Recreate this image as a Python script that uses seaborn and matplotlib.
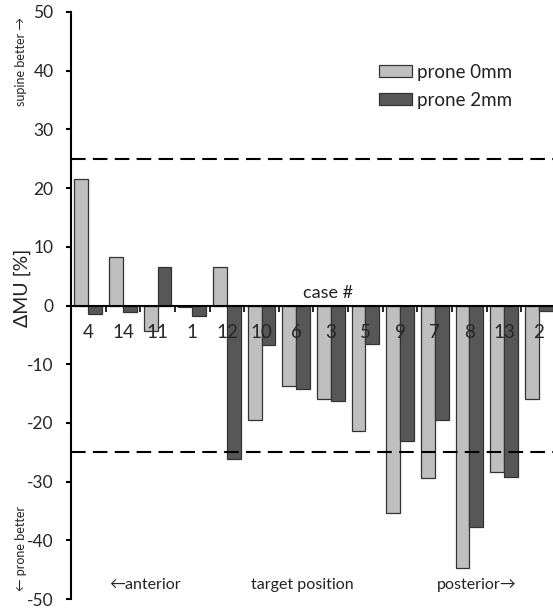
import matplotlib
matplotlib.use("Agg")
import matplotlib.pyplot as plt
from matplotlib.patches import Patch
import pandas as pd
import seaborn as sns

# Cases ordered by target position (anterior -> posterior)
cases = ["4", "14", "11", "1", "12", "10", "6", "3", "5", "9", "7", "8", "13", "2"]
prone_0mm = [21.5, 8.2, -4.3, -0.2, 6.6, -19.5, -13.7, -15.9, -21.3, -35.4, -29.4, -44.7, -28.3, -15.9]
prone_2mm = [-1.4, -1.1, 6.6, -1.8, -26.1, -6.8, -14.3, -16.2, -6.5, -23.1, -19.5, -37.8, -29.2, -1.0]
series = ["prone 0mm", "prone 2mm"]
colors = ["#bfbfbf", "#575757"]
yticks = [-50, -40, -30, -20, -10, 0, 10, 20, 30, 40, 50]
threshold = 25

df = pd.DataFrame({
    "case": cases * 2,
    "dmu": prone_0mm + prone_2mm,
    "series": [series[0]] * len(cases) + [series[1]] * len(cases),
})

sns.set_style("white")
plt.rcParams["font.family"] = ["Lato", "DejaVu Sans"]
plt.rcParams["text.color"] = "#222222"

fig = plt.figure(figsize=(5.53, 6.08), dpi=100)
ax = fig.add_axes([71 / 553, 1 - 599 / 608, 485 / 553, 587 / 608])
ax.set_axisbelow(False)

sns.barplot(data=df, x="case", y="dmu", hue="series", order=cases,
            hue_order=series, palette=colors, saturation=1, width=0.8,
            edgecolor="#333333", linewidth=0.9, legend=False, ax=ax)

# threshold lines, drawn over the bars
for yv in (threshold, -threshold):
    ax.axhline(yv, color="black", lw=1.5, ls=(0, (7, 3.5)), zorder=3)

ax.set_xlim(-0.5, len(cases) - 0.5)
ax.set_ylim(-50, 50)
ax.set_xlabel("")
ax.set_ylabel("")

# spines
for s in ("top", "right"):
    ax.spines[s].set_visible(False)
ax.spines["left"].set_linewidth(1.5)
ax.spines["left"].set_color("black")
ax.spines["bottom"].set_position(("data", 0))
ax.spines["bottom"].set_linewidth(1.5)
ax.spines["bottom"].set_color("black")

# y ticks
ax.set_yticks(yticks)
ax.set_yticklabels([str(v) for v in yticks], fontsize=12.5)
ax.tick_params(axis="y", direction="out", length=3.5, width=1.5, pad=9,
               left=True, color="black")

# case labels centred under each group, tick marks between groups
ax.set_xticks(range(len(cases)))
ax.set_xticklabels(cases, fontsize=13.5)
ax.tick_params(axis="x", which="major", length=0, pad=13)
ax.set_xticks([i - 0.5 for i in range(len(cases))], minor=True)
ax.tick_params(axis="x", which="minor", direction="out", length=4, width=1.2,
               bottom=True, color="black")

ax.text(6.93, 0.8, "case #", ha="center", va="bottom", fontsize=13)

# position annotations along the bottom
ax.text(1.64, -47.7, "\u2190anterior", ha="center", va="center", fontsize=11.5)
ax.text(6.18, -47.7, "target position", ha="center", va="center", fontsize=11.5)
ax.text(11.2, -47.7, "posterior\u2192", ha="center", va="center", fontsize=11.5)

# axis label and direction hints
fig.text(22 / 553, 1 - 288 / 608, "\u0394MU [%]", rotation=90,
         ha="center", va="center", fontsize=14)
fig.text(21 / 553, 1 - 62 / 608, "supine better \u2192", rotation=90,
         ha="center", va="center", fontsize=9)
fig.text(21 / 553, 1 - 548 / 608, "\u2190 prone better", rotation=90,
         ha="center", va="center", fontsize=9)

handles = [Patch(facecolor=c, edgecolor="#333333", linewidth=0.9) for c in colors]
ax.legend(handles, series, loc="upper left", bbox_to_anchor=(0.62, 0.925),
          frameon=False, fontsize=13.5, handlelength=1.75, handleheight=0.6,
          handletextpad=0.25, labelspacing=0.6, borderaxespad=0)

fig.savefig("out.png", dpi=100)
